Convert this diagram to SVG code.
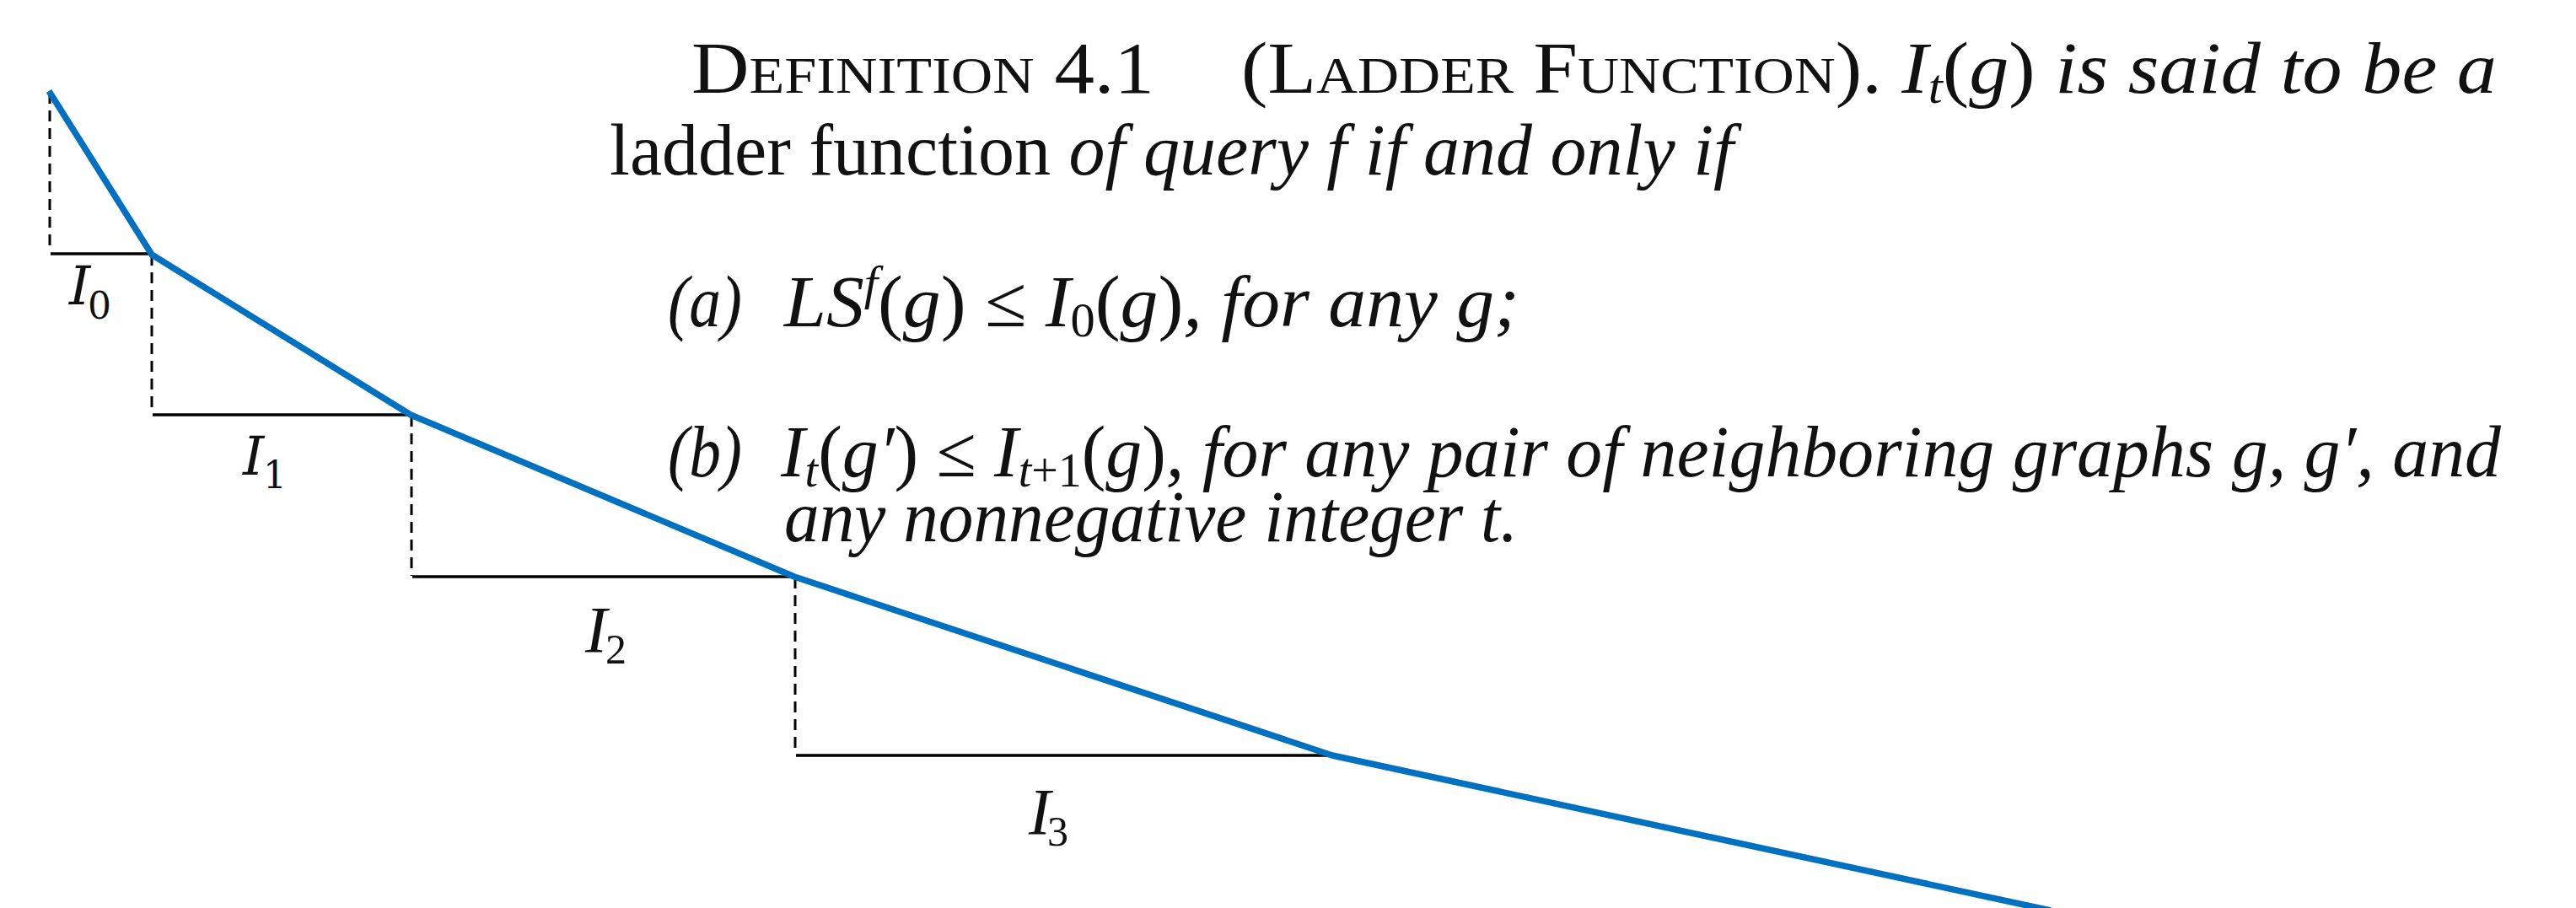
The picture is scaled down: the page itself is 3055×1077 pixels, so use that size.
<svg xmlns="http://www.w3.org/2000/svg" width="3055" height="1077" viewBox="0 0 3055 1077">
<style>
.t{font-family:"Liberation Serif","Times New Roman",serif;font-size:86px;fill:#111}
.it{font-style:italic}
.sc{font-size:62px}
.sub{font-size:56px}
.lab{font-family:"DejaVu Serif","Liberation Serif",serif;font-size:64px;fill:#111;font-style:italic}
.labsub{font-size:44px;font-style:normal}
.lab2{font-family:"Liberation Serif","Times New Roman",serif;font-size:78px;fill:#111;font-style:italic}
.labsub2{font-size:50px;font-style:normal}
.solid{stroke:#000;stroke-width:3.4;fill:none}
.dash{stroke:#000;stroke-width:3;fill:none;stroke-dasharray:13 8}
.curve{stroke:#0070C0;stroke-width:7.5;fill:none;stroke-linejoin:round;stroke-linecap:butt}
</style>
<rect width="3055" height="1077" fill="#fff"/>
<g id="connectors">
<line class="dash" x1="59" y1="110" x2="59" y2="296"/>
<line class="dash" x1="180" y1="302" x2="180" y2="490"/>
<line class="dash" x1="488" y1="493" x2="488" y2="683"/>
<line class="dash" x1="943" y1="685" x2="943" y2="895"/>
<line class="solid" x1="60" y1="301" x2="180" y2="301"/>
<line class="solid" x1="181" y1="492" x2="487" y2="492"/>
<line class="solid" x1="489" y1="684" x2="941" y2="684"/>
<line class="solid" x1="944" y1="896" x2="1580" y2="896"/>
<polyline class="curve" points="58,108 180,302 487,492 942,684 1580,896 2432,1080"/>
</g>
<g id="label-I0"><text class="lab" x="82" y="361">I<tspan class="labsub" x="104" y="378">0</tspan></text></g>
<g id="label-I1"><text class="lab" x="288" y="563">I<tspan class="labsub" x="312" y="579">1</tspan></text></g>
<g id="label-I2"><text class="lab2" x="694" y="773">I<tspan class="labsub2" x="718" y="787">2</tspan></text></g>
<g id="label-I3"><text class="lab2" x="1220" y="989">I<tspan class="labsub2" x="1242" y="1003">3</tspan></text></g>
<g id="definition">
<text class="t" x="820" y="110" textLength="549" lengthAdjust="spacingAndGlyphs">D<tspan class="sc">EFINITION</tspan> 4.1</text>
<text class="t" x="1472" y="110" textLength="1489" lengthAdjust="spacingAndGlyphs">(L<tspan class="sc">ADDER</tspan> F<tspan class="sc">UNCTION</tspan>). <tspan class="it">I</tspan><tspan class="it sub" dy="12">t</tspan><tspan dy="-12">(</tspan><tspan class="it">g</tspan>) <tspan class="it">is said to be a</tspan></text>
<text class="t" x="723" y="207" textLength="1333" lengthAdjust="spacingAndGlyphs">ladder function <tspan class="it">of query f if and only if</tspan></text>
<text class="t it" x="792" y="387" textLength="88" lengthAdjust="spacingAndGlyphs">(a)</text>
<text class="t" x="930" y="387" textLength="872" lengthAdjust="spacingAndGlyphs"><tspan class="it">LS</tspan><tspan class="it sub" dy="-32">f</tspan><tspan dy="32">(</tspan><tspan class="it">g</tspan>) ≤ <tspan class="it">I</tspan><tspan class="sub" dy="12">0</tspan><tspan dy="-12">(</tspan><tspan class="it">g</tspan>)<tspan class="it">, for any g;</tspan></text>
<text class="t it" x="792" y="565" textLength="88" lengthAdjust="spacingAndGlyphs">(b)</text>
<text class="t" x="926" y="565" textLength="2040" lengthAdjust="spacingAndGlyphs"><tspan class="it">I</tspan><tspan class="it sub" dy="12">t</tspan><tspan dy="-12">(</tspan><tspan class="it">g′</tspan>) ≤ <tspan class="it">I</tspan><tspan class="it sub" dy="12">t</tspan><tspan class="sub">+1</tspan><tspan dy="-12">(</tspan><tspan class="it">g</tspan>)<tspan class="it">, for any pair of neighboring graphs g, g′, and</tspan></text>
<text class="t it" x="930" y="642" textLength="870" lengthAdjust="spacingAndGlyphs">any nonnegative integer t.</text>
</g>
</svg>
